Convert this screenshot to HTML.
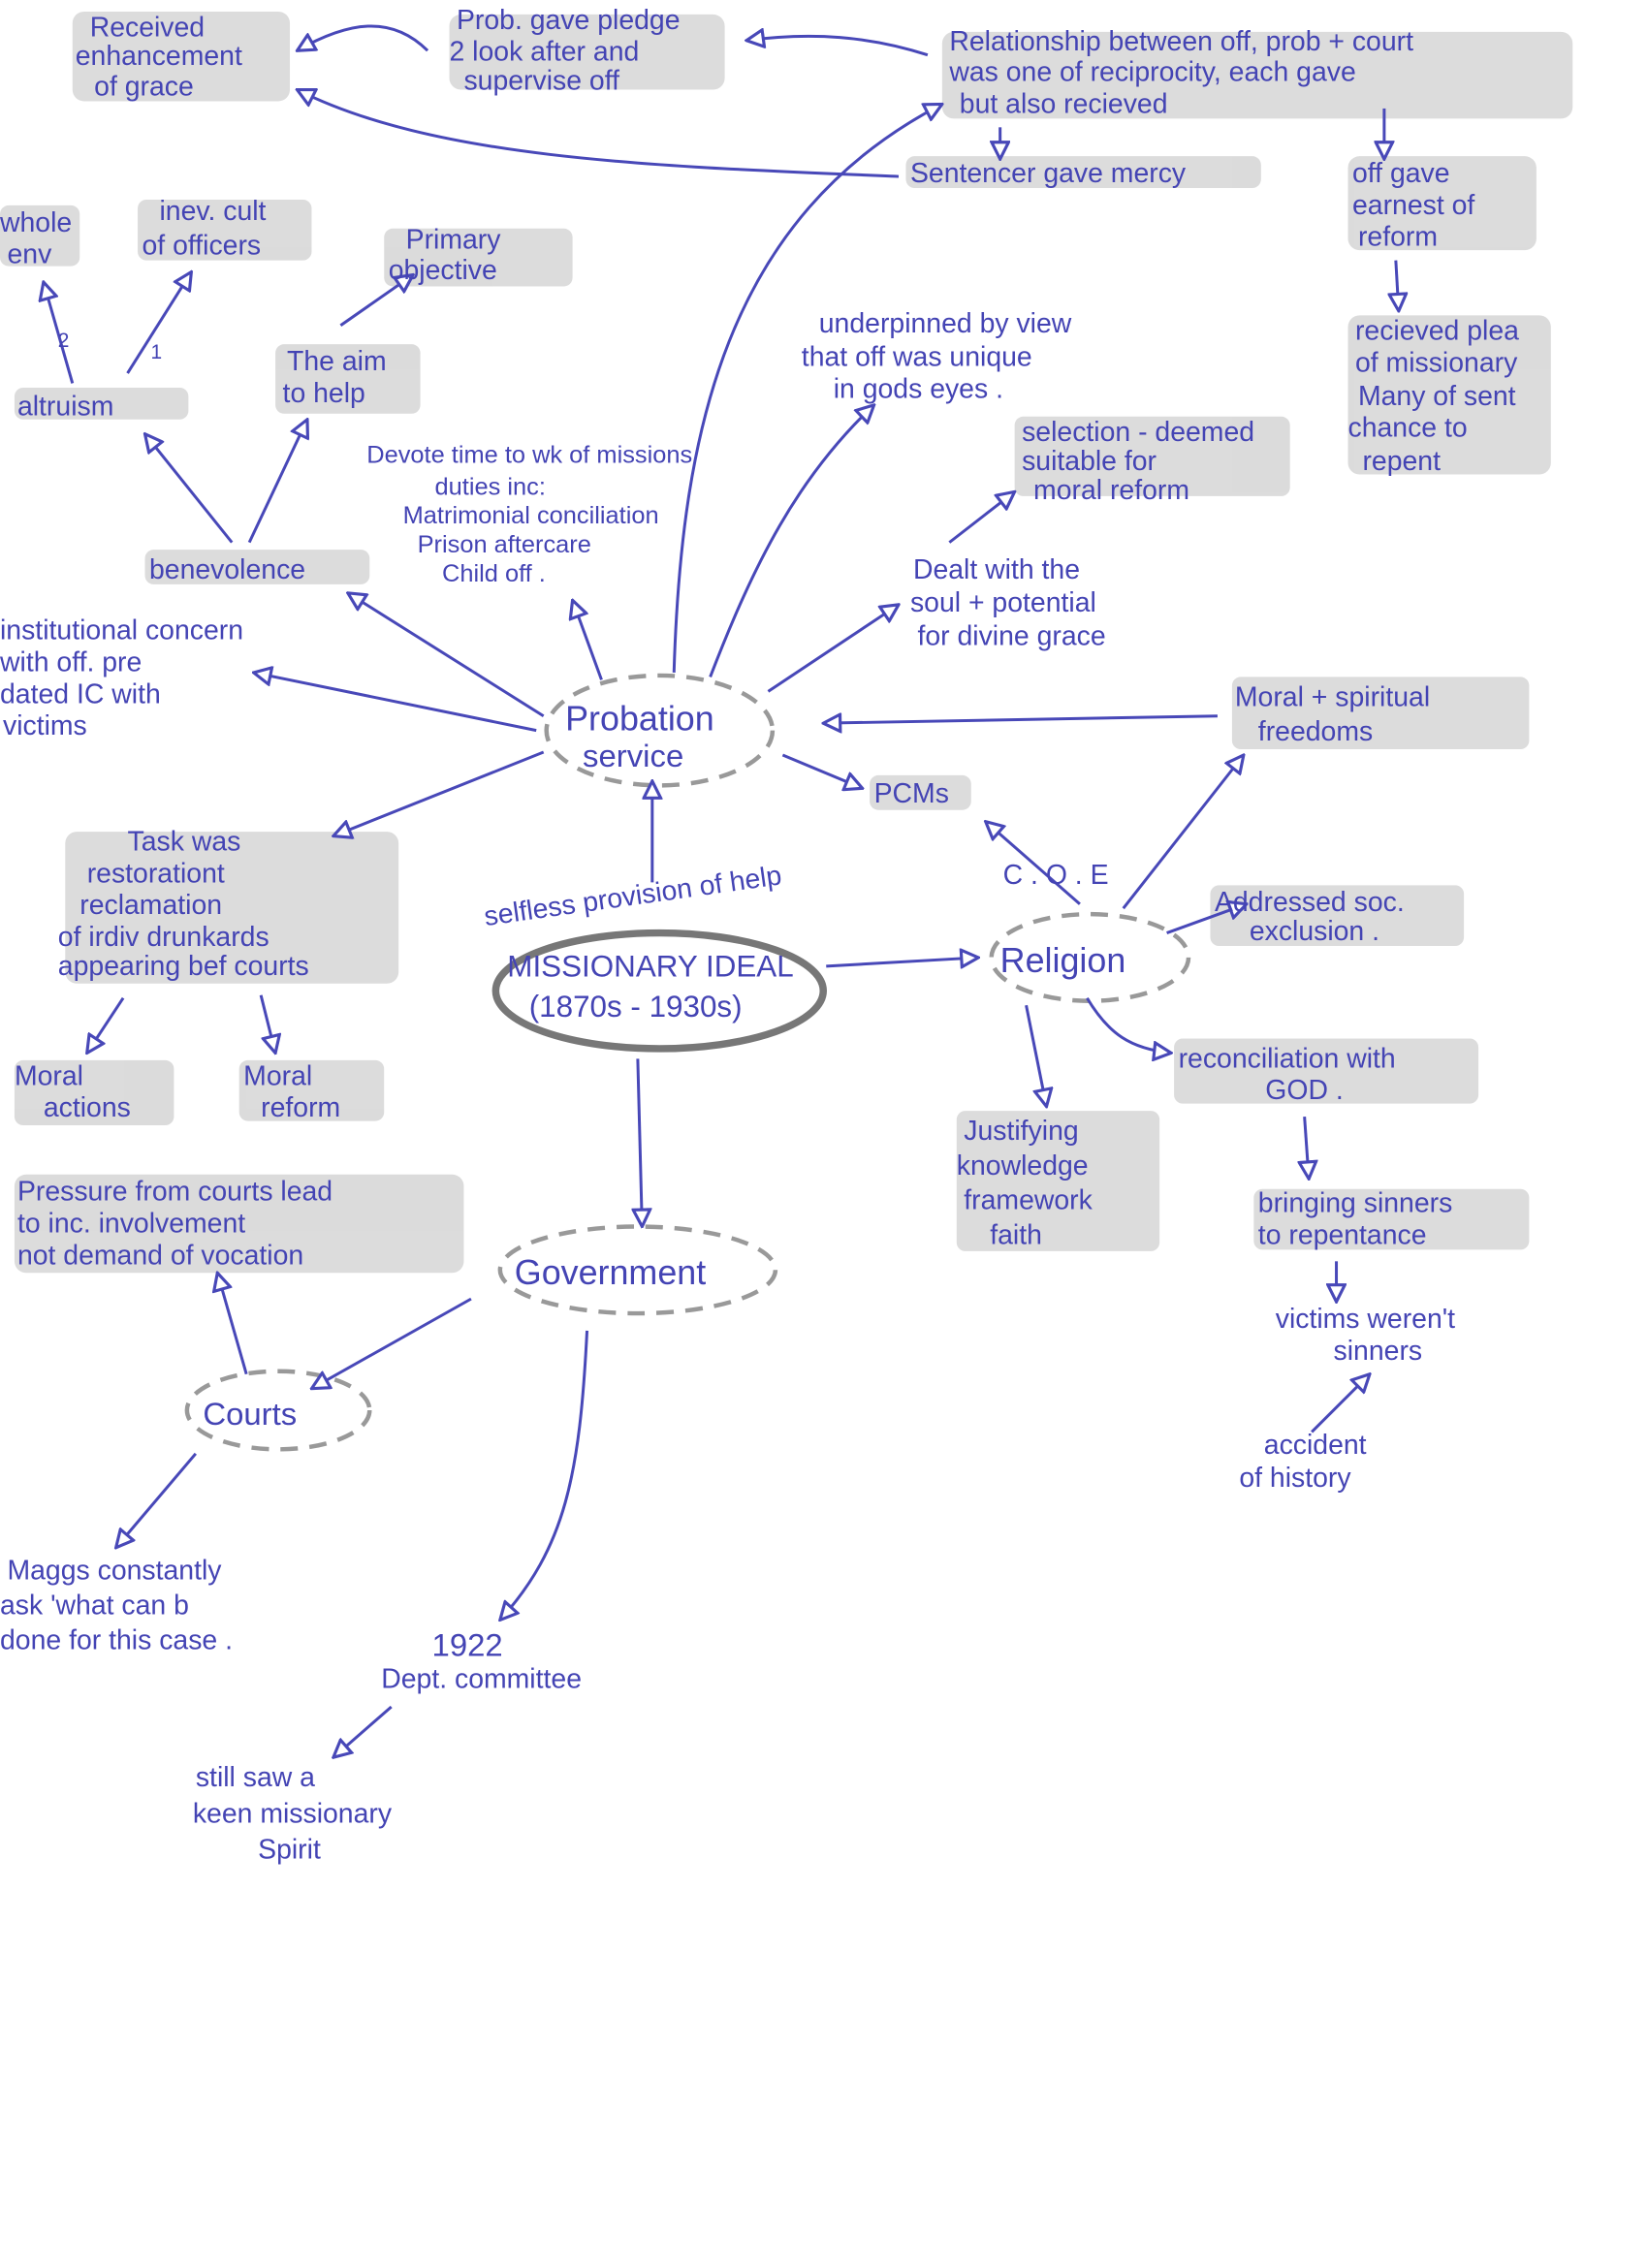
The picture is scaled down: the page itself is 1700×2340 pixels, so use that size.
<!DOCTYPE html>
<html><head><meta charset="utf-8"><style>
html,body{margin:0;padding:0;background:#fff;}
svg{display:block}
text{font-family:"Liberation Sans",sans-serif;fill:#4444b4;font-size:19px;}
.hl{fill:#c4c4c4;opacity:.6}
.ln{stroke:#4848b8;stroke-width:2;fill:none}
</style></head><body>
<svg width="1700" height="2340" viewBox="0 0 1137 1568" preserveAspectRatio="none">
<defs>
<marker id="a" viewBox="0 0 12 12" refX="11" refY="6" markerWidth="14" markerHeight="14" markerUnits="userSpaceOnUse" orient="auto">
<path d="M1,1 L11,6 L1,11 Z" fill="#fff" stroke="#4848b8" stroke-width="1.8"/></marker>
</defs>
<rect width="1137" height="1568" fill="#fff"/>
<g class="hl">
<rect x="50" y="8" width="150" height="62" rx="8"/>
<rect x="310" y="10" width="190" height="52" rx="8"/>
<rect x="650" y="22" width="435" height="60" rx="8"/>
<rect x="625" y="108" width="245" height="22" rx="6"/>
<rect x="930" y="108" width="130" height="65" rx="8"/>
<rect x="930" y="218" width="140" height="110" rx="8"/>
<rect x="0" y="142" width="55" height="42" rx="6"/>
<rect x="95" y="138" width="120" height="42" rx="6"/>
<rect x="265" y="158" width="130" height="40" rx="6"/>
<rect x="190" y="238" width="100" height="48" rx="6"/>
<rect x="10" y="268" width="120" height="22" rx="6"/>
<rect x="700" y="288" width="190" height="55" rx="6"/>
<rect x="100" y="380" width="155" height="24" rx="6"/>
<rect x="600" y="536" width="70" height="24" rx="6"/>
<rect x="850" y="468" width="205" height="50" rx="6"/>
<rect x="45" y="575" width="230" height="105" rx="8"/>
<rect x="10" y="733" width="110" height="45" rx="6"/>
<rect x="165" y="733" width="100" height="42" rx="6"/>
<rect x="10" y="812" width="310" height="68" rx="8"/>
<rect x="835" y="612" width="175" height="42" rx="6"/>
<rect x="810" y="718" width="210" height="45" rx="6"/>
<rect x="660" y="768" width="140" height="97" rx="6"/>
<rect x="865" y="822" width="190" height="42" rx="6"/>
</g>
<ellipse cx="455" cy="505" rx="78" ry="38" fill="none" stroke="#999" stroke-width="3" stroke-dasharray="12 8"/>
<ellipse cx="752" cy="662" rx="68" ry="30" fill="none" stroke="#999" stroke-width="3" stroke-dasharray="12 8"/>
<ellipse cx="440" cy="878" rx="95" ry="30" fill="none" stroke="#999" stroke-width="3" stroke-dasharray="12 8"/>
<ellipse cx="192" cy="975" rx="63" ry="27" fill="none" stroke="#999" stroke-width="3" stroke-dasharray="12 8"/>
<ellipse cx="455" cy="685" rx="113" ry="40" fill="none" stroke="#777" stroke-width="5"/>
<g class="ln">
<path d="M375,495 L240,410" marker-end="url(#a)"/>
<path d="M415,470 L395,415" marker-end="url(#a)"/>
<path d="M370,505 L175,465" marker-end="url(#a)"/>
<path d="M375,520 L230,578" marker-end="url(#a)"/>
<path d="M465,465 C470,300 500,150 650,72" marker-end="url(#a)"/>
<path d="M490,468 C520,390 550,330 603,280" marker-end="url(#a)"/>
<path d="M530,478 L620,418" marker-end="url(#a)"/>
<path d="M540,522 L595,545" marker-end="url(#a)"/>
<path d="M840,495 L568,500" marker-end="url(#a)"/>
<path d="M450,610 L450,540" marker-end="url(#a)"/>
<path d="M570,668 L675,662" marker-end="url(#a)"/>
<path d="M440,732 L443,848" marker-end="url(#a)"/>
<path d="M745,625 L680,568" marker-end="url(#a)"/>
<path d="M775,628 L858,522" marker-end="url(#a)"/>
<path d="M805,645 L860,625" marker-end="url(#a)"/>
<path d="M750,690 C765,715 780,725 808,728" marker-end="url(#a)"/>
<path d="M708,695 L722,765" marker-end="url(#a)"/>
<path d="M900,772 L903,815" marker-end="url(#a)"/>
<path d="M922,872 L922,900" marker-end="url(#a)"/>
<path d="M905,990 L945,950" marker-end="url(#a)"/>
<path d="M325,898 L215,960" marker-end="url(#a)"/>
<path d="M405,920 C400,1020 390,1070 345,1120" marker-end="url(#a)"/>
<path d="M170,950 L150,880" marker-end="url(#a)"/>
<path d="M135,1005 L80,1070" marker-end="url(#a)"/>
<path d="M270,1180 L230,1215" marker-end="url(#a)"/>
<path d="M85,690 L60,728" marker-end="url(#a)"/>
<path d="M180,688 L190,728" marker-end="url(#a)"/>
<path d="M160,375 L100,300" marker-end="url(#a)"/>
<path d="M172,375 L212,290" marker-end="url(#a)"/>
<path d="M50,265 L30,195" marker-end="url(#a)"/>
<path d="M88,258 L132,188" marker-end="url(#a)"/>
<path d="M235,225 L285,190" marker-end="url(#a)"/>
<path d="M655,375 L700,340" marker-end="url(#a)"/>
<path d="M640,38 C600,25 560,22 515,28" marker-end="url(#a)"/>
<path d="M295,35 C270,10 240,15 205,35" marker-end="url(#a)"/>
<path d="M620,122 C450,115 300,110 205,62" marker-end="url(#a)"/>
<path d="M690,88 L690,110" marker-end="url(#a)"/>
<path d="M955,75 L955,110" marker-end="url(#a)"/>
<path d="M963,180 L965,215" marker-end="url(#a)"/>
</g>
<text x="62" y="25">Received</text><text x="52" y="45">enhancement</text><text x="65" y="66">of grace</text>
<text x="315" y="20">Prob. gave pledge</text><text x="310" y="42">2 look after and</text><text x="320" y="62">supervise off</text>
<text x="655" y="35">Relationship between off, prob + court</text><text x="655" y="56">was one of reciprocity, each gave</text><text x="662" y="78">but also recieved</text>
<text x="628" y="126">Sentencer gave mercy</text>
<text x="933" y="126">off gave</text><text x="933" y="148">earnest of</text><text x="937" y="170">reform</text>
<text x="935" y="235">recieved plea</text><text x="935" y="257">of missionary</text><text x="937" y="280">Many of sent</text><text x="930" y="302">chance to</text><text x="940" y="325">repent</text>
<text x="0" y="160">whole</text><text x="5" y="182">env</text>
<text x="110" y="152">inev. cult</text><text x="98" y="176">of officers</text>
<text x="280" y="172">Primary</text><text x="268" y="193">objective</text>
<text x="198" y="256">The aim</text><text x="195" y="278">to help</text>
<text x="40" y="240" style="font-size:14px">2</text><text x="104" y="248" style="font-size:14px">1</text>
<text x="12" y="287">altruism</text>
<text x="565" y="230">underpinned by view</text><text x="553" y="253">that off was unique</text><text x="575" y="275">in gods eyes .</text>
<text x="705" y="305">selection - deemed</text><text x="705" y="325">suitable for</text><text x="713" y="345">moral reform</text>
<text x="253" y="320" style="font-size:17px">Devote time to wk of missions</text>
<text x="300" y="342" style="font-size:17px">duties inc:</text>
<text x="278" y="362" style="font-size:17px">Matrimonial conciliation</text>
<text x="288" y="382" style="font-size:17px">Prison aftercare</text>
<text x="305" y="402" style="font-size:17px">Child off .</text>
<text x="103" y="400">benevolence</text>
<text x="630" y="400">Dealt with the</text><text x="628" y="423">soul + potential</text><text x="633" y="446">for divine grace</text>
<text x="0" y="442">institutional concern</text><text x="0" y="464">with off. pre</text><text x="0" y="486">dated IC with</text><text x="2" y="508">victims</text>
<text x="390" y="505" style="font-size:24px">Probation</text><text x="402" y="530" style="font-size:22px">service</text>
<text x="852" y="488">Moral + spiritual</text><text x="868" y="512">freedoms</text>
<text x="603" y="555">PCMs</text>
<text x="88" y="588">Task was</text><text x="60" y="610">restorationt</text><text x="55" y="632">reclamation</text><text x="40" y="654">of irdiv drunkards</text><text x="40" y="674">appearing bef courts</text>
<text x="692" y="611">C . O . E</text>
<text x="335" y="640" transform="rotate(-8 335 640)">selfless provision of help</text>
<text x="838" y="630">Addressed soc.</text><text x="862" y="650">exclusion .</text>
<text x="350" y="675" style="font-size:21px">MISSIONARY IDEAL</text><text x="365" y="703" style="font-size:21px">(1870s - 1930s)</text>
<text x="690" y="672" style="font-size:24px">Religion</text>
<text x="813" y="738">reconciliation with</text><text x="873" y="760">GOD .</text>
<text x="10" y="750">Moral</text><text x="30" y="772">actions</text>
<text x="168" y="750">Moral</text><text x="180" y="772">reform</text>
<text x="665" y="788">Justifying</text><text x="660" y="812">knowledge</text><text x="665" y="836">framework</text><text x="683" y="860">faith</text>
<text x="12" y="830">Pressure from courts lead</text><text x="12" y="852">to inc. involvement</text><text x="12" y="874">not demand of vocation</text>
<text x="868" y="838">bringing sinners</text><text x="868" y="860">to repentance</text>
<text x="355" y="888" style="font-size:24px">Government</text>
<text x="880" y="918">victims weren't</text><text x="920" y="940">sinners</text>
<text x="140" y="985" style="font-size:22px">Courts</text>
<text x="872" y="1005">accident</text><text x="855" y="1028">of history</text>
<text x="5" y="1092">Maggs constantly</text><text x="0" y="1116">ask 'what can b</text><text x="0" y="1140">done for this case .</text>
<text x="298" y="1145" style="font-size:22px">1922</text><text x="263" y="1167">Dept. committee</text>
<text x="135" y="1235">still saw a</text><text x="133" y="1260">keen missionary</text><text x="178" y="1285">Spirit</text>
</svg>
</body></html>
